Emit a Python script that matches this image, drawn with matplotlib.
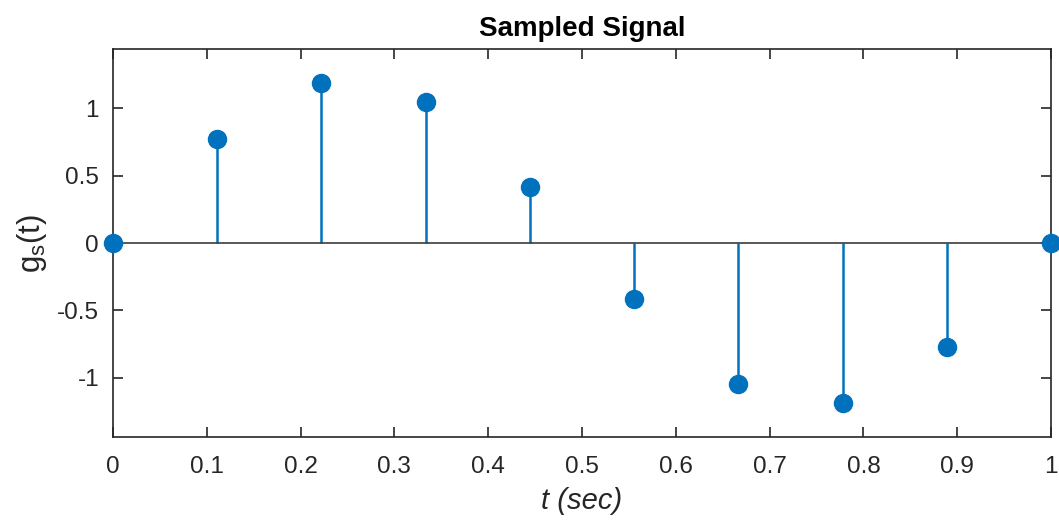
"""
Señal muestreada: stem plot al estilo MATLAB
"""

import numpy as np
import matplotlib.pyplot as plt

plt.rcParams['font.family'] = ['Liberation Sans', 'DejaVu Sans']
plt.rcParams['mathtext.fontset'] = 'custom'
plt.rcParams['mathtext.rm'] = 'Liberation Sans'
plt.rcParams['mathtext.it'] = 'Liberation Sans:italic'

# Datos
t_samples = [0, 1/9, 2/9, 3/9, 4/9, 5/9, 6/9, 7/9, 8/9, 1]
gs_values = [0, 0.772, 1.186, 1.045, 0.414, -0.414, -1.045, -1.186, -0.772, 0]
x_ticks = [0, 0.1, 0.2, 0.3, 0.4, 0.5, 0.6, 0.7, 0.8, 0.9, 1]
x_tick_labels = ['0', '0.1', '0.2', '0.3', '0.4', '0.5', '0.6', '0.7', '0.8', '0.9', '1']
y_ticks = [-1, -0.5, 0, 0.5, 1]
y_tick_labels = ['-1', '-0.5', '0', '0.5', '1']

blue = '#0072BD'
dark = '#262626'

fig = plt.figure(figsize=(10.59, 5.21), dpi=100)
ax = fig.add_axes([113/1059, 1 - 437/521, (1051-113)/1059, (437-49)/521])

markerline, stemlines, baseline = ax.stem(t_samples, gs_values, basefmt='-')
plt.setp(stemlines, color=blue, linewidth=1.8)
plt.setp(markerline, color=blue, markersize=13, zorder=3, clip_on=False)
plt.setp(baseline, color='#3c3c3c', linewidth=1.2, xdata=[0, 1])

ax.set_xlim(0, 1)
ax.set_ylim(-1.44, 1.44)
ax.set_xticks(x_ticks, x_tick_labels)
ax.set_yticks(y_ticks, y_tick_labels)
ax.tick_params(direction='in', length=7, width=1.2, colors=dark,
               labelsize=17.5, top=True, right=True)
ax.tick_params(axis='x', pad=14)
ax.tick_params(axis='y', pad=10)
for s in ax.spines.values():
    s.set_color(dark)
    s.set_linewidth(1.2)

ax.set_title('Sampled Signal', fontsize=20, fontweight='bold', pad=9)
ax.set_xlabel('t (sec)', fontsize=21, style='italic', color=dark, labelpad=6)
ax.set_ylabel(r'$\mathrm{g_s(t)}$', fontsize=22.5, color=dark, labelpad=6)

plt.savefig('out.png', dpi=100)
